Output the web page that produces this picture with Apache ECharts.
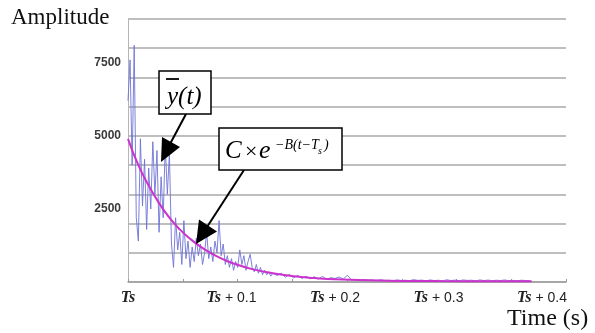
<!DOCTYPE html>
<html>
<head>
<meta charset="utf-8">
<script src="https://cdn.jsdelivr.net/npm/echarts@6/dist/echarts.min.js"></script>
<style>html,body{margin:0;padding:0;background:#fff}#c{width:595px;height:333px}</style>
</head>
<body>
<div id="c"></div>
<script>
// ---- data ----
const signalTime = [
 0.000,0.002,0.004,0.006,0.008,0.010,0.012,0.014,0.016,0.018,
 0.020,0.022,0.024,0.026,0.028,0.030,0.032,0.034,0.036,0.038,
 0.040,0.042,0.044,0.046,0.048,0.050,0.052,0.054,0.056,0.058,
 0.060,0.062,0.064,0.066,0.068,0.070,0.072,0.074,0.076,0.078,
 0.080,0.082,0.084,0.086,0.088,0.090,0.092,0.094,0.096,0.098,
 0.100,0.102,0.104,0.106,0.108,0.110,0.112,0.114,0.116,0.118,
 0.120,0.122,0.124,0.126,0.128,0.130,0.132,0.134,0.136,0.138,
 0.140,0.144,0.148,0.152,0.156,0.160,0.164,0.168,0.172,0.176,
 0.180,0.184,0.188,0.192,0.196,0.200,0.204,0.208,0.212,0.216,
 0.220,0.224,0.228,0.232,0.236,0.240,0.244,0.248,0.252,0.256,
 0.260,0.264,0.268,0.272,0.276,0.280,0.284,0.288,0.292,0.296,
 0.300,0.304,0.308,0.312,0.316,0.320,0.324,0.328,0.332,0.336,
 0.340,0.344,0.348,0.352,0.356,0.360,0.364,0.368,0.372,0.376,
 0.380,0.384,0.388
];
const signalAmp = [
 6200,7600,4000,8100,2200,1400,4900,2600,4200,1800,
 3900,2500,4800,3000,4500,1700,3600,2200,4700,3000,
 4400,1300,500,2200,1100,1700,600,2100,800,1400,
 500,1200,700,1500,900,1300,600,1000,1700,800,
 1200,700,1400,1000,2100,900,1300,600,900,500,
 800,400,700,500,1100,600,900,400,700,950,
 500,350,600,300,500,250,400,250,350,200,
 300,220,300,160,260,140,230,120,200,110,
 180,100,190,90,150,120,170,100,230,70,
 90,50,80,60,70,45,75,55,60,40,
 70,50,60,45,80,55,65,40,70,50,
 60,40,75,50,65,45,70,55,60,40,
 70,50,65,45,60,50,70,45,55,40,
 60,50,45
];
const fitTime = [0,0.01,0.02,0.03,0.04,0.05,0.06,0.07,0.08,0.09,0.10,0.12,0.14,0.16,0.18,0.20,0.25,0.30,0.35,0.39];
const fitAmp  = [4900,4000,3300,2700,2200,1800,1480,1210,990,810,660,440,300,200,135,90,45,30,25,22];
const xTickLabels = ['Ts','Ts + 0.1','Ts + 0.2','Ts + 0.3','Ts + 0.4'];
const yTickLabels = ['2500','5000','7500'];

const signalData = signalTime.map((t,i)=>[t, signalAmp[i]]);
const fitData = fitTime.map((t,i)=>[t, fitAmp[i]]);

const chart = echarts.init(document.getElementById('c'), null, {renderer:'canvas'});
const serif = 'Liberation Serif, Times New Roman, serif';
const sans = 'Liberation Sans, Arial, sans-serif';

chart.setOption({
  animation:false,
  backgroundColor:'#ffffff',
  grid:{left:128, right:29, top:19, bottom:51, containLabel:false},
  xAxis:[
    {type:'value', min:0, max:0.4232, interval:0.0529,
     axisLine:{show:true, lineStyle:{color:'#a0a0a0', width:1.5}},
     axisTick:{show:true, inside:true, length:3, lineStyle:{color:'#999'}},
     axisLabel:{show:false}, splitLine:{show:false}},
    {type:'value', min:0, max:0.4232, interval:0.1, position:'bottom',
     axisLine:{show:false}, axisTick:{show:false}, splitLine:{show:false},
     axisLabel:{margin:8, showMaxLabel:false,
       formatter:function(v){
         const i = Math.round(v*10);
         if (Math.abs(v*10-i) > 1e-6 || i<0 || i>=xTickLabels.length) return '';
         const s = xTickLabels[i];
         const rest = s.slice(2);
         return '{ts|Ts}' + (rest ? '{n|' + rest + '}' : '');
       },
       rich:{
         ts:{fontFamily:serif, fontStyle:'italic', fontWeight:'bold', fontSize:16, color:'#222'},
         n:{fontFamily:sans, fontSize:14, color:'#222'}
       }}}
  ],
  yAxis:[
    {type:'value', min:0, max:9000, interval:1000,
     axisLine:{show:true, lineStyle:{color:'#b5b5b5', width:1}},
     axisTick:{show:false}, axisLabel:{show:false},
     splitLine:{show:true, lineStyle:{color:'#a8a8a8', width:1.5}}},
    {type:'value', min:0, max:9000, interval:2500, position:'left',
     axisLine:{show:false}, axisTick:{show:false}, splitLine:{show:false},
     axisLabel:{margin:7, fontFamily:sans, fontSize:12, fontWeight:'bold', color:'#3a3a3a',
       formatter:function(v){ const s = String(v); return yTickLabels.indexOf(s) >= 0 ? s : ''; }}}
  ],
  series:[
    {type:'line', xAxisIndex:0, yAxisIndex:0, data:signalData, showSymbol:false,
     lineStyle:{color:'#6f73d6', width:1, opacity:0.9}, z:2},
    {type:'line', xAxisIndex:0, yAxisIndex:0, data:fitData, showSymbol:false, smooth:true,
     lineStyle:{color:'#cc33cc', width:2}, z:3}
  ],
  graphic:[
    {type:'text', left:11, top:6, style:{text:'Amplitude', font:'23px '+serif, fill:'#111'}},
    {type:'text', left:507, top:307, style:{text:'Time (s)', font:'24px '+serif, fill:'#111'}},
    // arrow 1
    {type:'line', shape:{x1:186, y1:114, x2:170, y2:144}, style:{stroke:'#000', lineWidth:2}, z:10},
    {type:'polygon', shape:{points:[[161,162],[180,147],[162,137]]}, style:{fill:'#000'}, z:10},
    // arrow 2
    {type:'line', shape:{x1:244, y1:170, x2:207, y2:227}, style:{stroke:'#000', lineWidth:2}, z:10},
    {type:'polygon', shape:{points:[[196,244],[217,231.5],[199,219.5]]}, style:{fill:'#000'}, z:10},
    // box 1
    {type:'rect', shape:{x:159, y:71, width:52, height:43}, style:{fill:'#fff', stroke:'#000', lineWidth:1.5}, z:11},
    {type:'text', x:167, y:97, style:{text:'y(t)', font:'italic 25px '+serif, fill:'#000', verticalAlign:'middle'}, z:12},
    {type:'line', shape:{x1:166, y1:79, x2:179, y2:79}, style:{stroke:'#000', lineWidth:1.8}, z:12},
    // box 2
    {type:'rect', shape:{x:219, y:128, width:123, height:42}, style:{fill:'#fff', stroke:'#000', lineWidth:1.5}, z:11},
    {type:'text', x:225, y:151, style:{text:'C', font:'italic 25px '+serif, fill:'#000', verticalAlign:'middle'}, z:12},
    {type:'text', x:245, y:152, style:{text:'×', font:'22px '+serif, fill:'#000', verticalAlign:'middle'}, z:12},
    {type:'text', x:259, y:151, style:{text:'e', font:'italic 26px '+serif, fill:'#000', verticalAlign:'middle'}, z:12},
    {type:'text', x:275, y:145, style:{text:'−B(t−T', font:'italic 14px '+serif, fill:'#000', verticalAlign:'middle'}, z:12},
    {type:'text', x:318, y:151, style:{text:'s', font:'italic 10px '+serif, fill:'#000', verticalAlign:'middle'}, z:12},
    {type:'text', x:324, y:145, style:{text:')', font:'italic 14px '+serif, fill:'#000', verticalAlign:'middle'}, z:12}
  ]
});
</script>
</body>
</html>
